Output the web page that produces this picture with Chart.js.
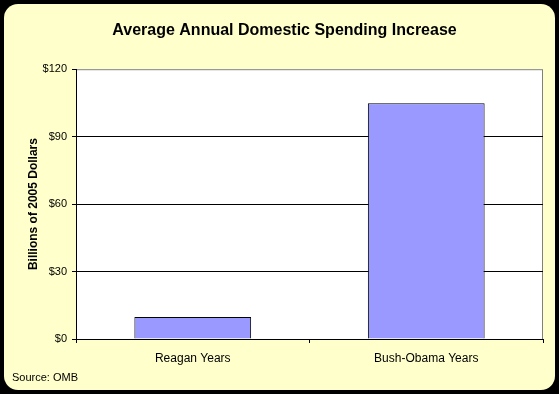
<!DOCTYPE html>
<html>
<head>
<meta charset="utf-8">
<script src="https://cdn.jsdelivr.net/npm/chart.js@4"></script>
<style>
  html, body { margin: 0; padding: 0; background: #000; }
  #wrap { width: 559px; height: 394px; }
</style>
</head>
<body>
<div id="wrap"><canvas id="myChart" width="559" height="394"></canvas></div>
<script>
const categories = ["Reagan Years", "Bush-Obama Years"];
const spending = [9.8, 104.8];
const yTicks = [0, 30, 60, 90, 120];

const FONT = "'Liberation Sans', Arial, sans-serif";

// yellow rounded panel, white plot area, and the source note
const panel = {
  id: "panel",
  beforeDraw(chart) {
    const ctx = chart.ctx;
    const a = chart.chartArea;
    ctx.save();
    ctx.fillStyle = "#000";
    ctx.fillRect(0, 0, chart.width, chart.height);
    ctx.fillStyle = "#FFFFCC";
    ctx.beginPath();
    ctx.roundRect(4, 4, 551, 386, 14);
    ctx.fill();
    ctx.fillStyle = "#fff";
    ctx.fillRect(a.left, a.top, a.right - a.left, a.bottom - a.top);
    ctx.strokeStyle = "#808080";
    ctx.lineWidth = 1;
    ctx.strokeRect(a.left + 0.5, a.top + 0.5, a.right - a.left - 1, a.bottom - a.top);
    ctx.restore();
  },
  afterDraw(chart) {
    const ctx = chart.ctx;
    ctx.save();
    ctx.fillStyle = "#000";
    ctx.font = "11px " + FONT;
    ctx.textBaseline = "alphabetic";
    ctx.fillText("Source: OMB", 12, 381);
    ctx.restore();
  }
};

const data = {
  labels: categories,
  datasets: [
    {
      label: "Spending increase",
      data: spending,
      backgroundColor: "#9999FF",
      borderColor: "#000",
      borderWidth: 1,
      barPercentage: 0.5,
      categoryPercentage: 1.0
    }
  ]
};

const config = {
  type: "bar",
  data: data,
  plugins: [panel],
  options: {
    responsive: false,
    animation: false,
    layout: { padding: { top: 0, left: 26, right: 16, bottom: 0 } },
    plugins: {
      legend: { display: false },
      tooltip: { enabled: false },
      title: {
        display: true,
        text: "Average Annual Domestic Spending Increase",
        color: "#000",
        font: { family: FONT, size: 16, weight: "bold" },
        padding: { top: 21, bottom: 29 }
      }
    },
    scales: {
      y: {
        min: 0,
        max: 120,
        afterBuildTicks(scale) {
          scale.ticks = yTicks.map(v => ({ value: v }));
        },
        afterFit(scale) { scale.width = 50; },
        border: { display: true, color: "#000", width: 1 },
        grid: {
          color: ctx => (ctx.tick && ctx.tick.value === 120 ? "rgba(0,0,0,0)" : "#000"),
          tickColor: "#000",
          tickLength: 4
        },
        ticks: {
          color: "#000",
          padding: 5,
          font: { family: FONT, size: 11 },
          callback: v => "$" + v
        },
        title: {
          display: true,
          text: "Billions of 2005 Dollars",
          color: "#000",
          font: { family: FONT, size: 12, weight: "bold" },
          padding: { top: 0, bottom: 0 }
        }
      },
      x: {
        afterFit(scale) { scale.height = 55; },
        border: { display: true, color: "#000", width: 1 },
        grid: {
          drawOnChartArea: false,
          offset: true,
          color: "#000",
          tickLength: 4
        },
        ticks: {
          color: "#000",
          padding: 8,
          font: { family: FONT, size: 12 }
        }
      }
    }
  }
};

const myChart = new Chart(document.getElementById("myChart"), config);
</script>
</body>
</html>
